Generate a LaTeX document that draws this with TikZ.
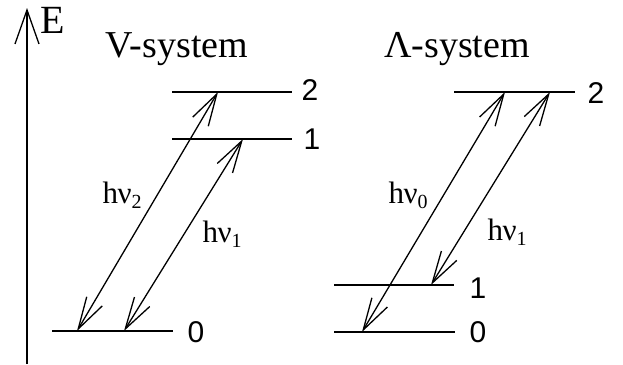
\documentclass[tikz,border=0pt]{standalone}
\usepackage{fontspec}
\setmainfont{Liberation Serif}
\newfontfamily\numfont{Liberation Sans}
\usepackage{tikz}
\usetikzlibrary{arrows.meta,positioning}
\newcommand{\hnu}[1]{h\kern-0.5ptν\raisebox{-5pt}{\fontsize{20}{20}\selectfont #1}}

\begin{document}
\begin{tikzpicture}[x=1pt, y=1pt, line width=1.3pt,
  lvl/.style={-},
  tr/.style={{Straight Barb[length=32pt,width=18pt]}-{Straight Barb[length=32pt,width=18pt]}},
  ttl/.style={font=\fontsize{38}{40}\selectfont, inner sep=0pt, anchor=base},
  num/.style={font=\numfont\fontsize{30}{30}\selectfont, inner sep=0pt, anchor=west},
  lb/.style={font=\fontsize{31}{32}\selectfont, inner sep=0pt, anchor=base west}]
\useasboundingbox (0,0) rectangle (623,-364);
\coordinate (ax0) at (27,-364); \coordinate (ax1) at (27,-8);
\draw[-{Straight Barb[length=34pt,width=24pt]}] (ax0) -- (ax1);
\node[ttl, anchor=base west, font=\fontsize{40}{40}\selectfont] (e) at (40,-33) {E};
\node[ttl] (vt) at (177,-57) {V-system};
\node[ttl] (lt) at (457,-57) {Λ-system};
% V-system
\coordinate (v2a) at (172,-92);  \coordinate (v2b) at (292,-92);
\coordinate (v1a) at (172,-139); \coordinate (v1b) at (292,-139);
\coordinate (v0a) at (52,-331);  \coordinate (v0b) at (173,-331);
\draw[lvl] (v2a) -- (v2b); \draw[lvl] (v1a) -- (v1b); \draw[lvl] (v0a) -- (v0b);
\node[num] (v2n) at (301,-90) {2};
\node[num] (v1n) at (303,-139) {1};
\node[num] (v0n) at (187,-332) {0};
\coordinate (v0p) at (77,-331);  \coordinate (v2p) at (218,-92);
\coordinate (v0q) at (124,-331); \coordinate (v1p) at (243,-139);
\draw[tr] (v0p) -- (v2p);
\draw[tr] (v0q) -- (v1p);
\node[lb] (vh2) at (102,-203) {\hnu{2}};
\node[lb] (vh1) at (202,-242) {\hnu{1}};
% Lambda-system
\coordinate (l2a) at (454,-92);  \coordinate (l2b) at (575,-92);
\coordinate (l1a) at (334,-285); \coordinate (l1b) at (454,-285);
\coordinate (l0a) at (334,-332); \coordinate (l0b) at (455,-332);
\draw[lvl] (l2a) -- (l2b); \draw[lvl] (l1a) -- (l1b); \draw[lvl] (l0a) -- (l0b);
\node[num] (l2n) at (587,-93) {2};
\node[num] (l1n) at (469,-288) {1};
\node[num] (l0n) at (469,-332) {0};
\coordinate (l0p) at (362,-332); \coordinate (l2p) at (505,-92);
\coordinate (l1p) at (431,-285); \coordinate (l2q) at (550,-92);
\draw[tr] (l0p) -- (l2p);
\draw[tr] (l1p) -- (l2q);
\node[lb] (lh0) at (388,-203) {\hnu{0}};
\node[lb] (lh1) at (487,-240) {\hnu{1}};
\end{tikzpicture}
\end{document}
